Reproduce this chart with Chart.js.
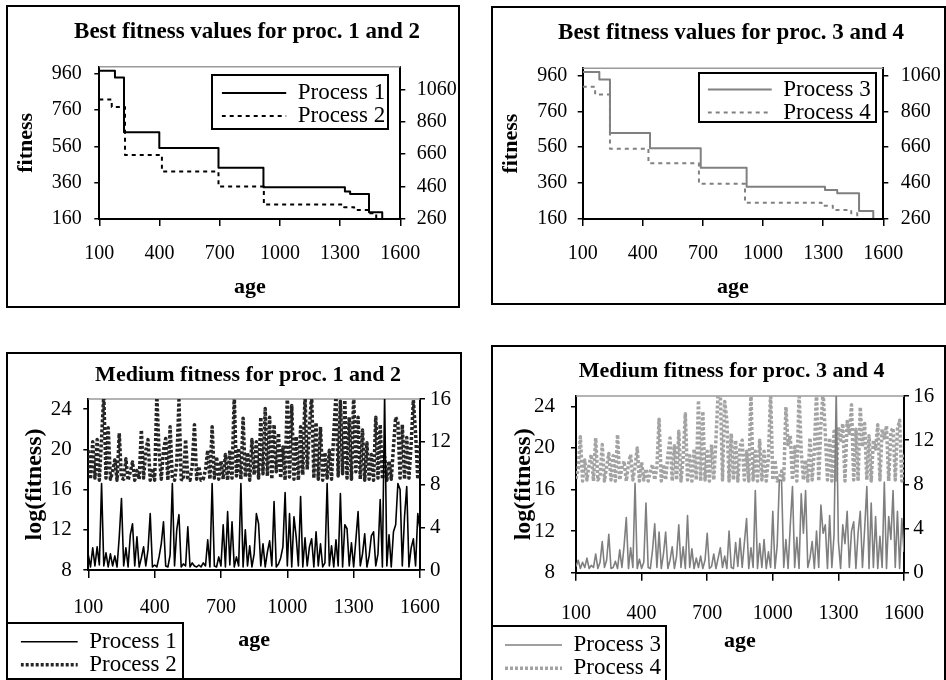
<!DOCTYPE html>
<html>
<head>
<meta charset="utf-8">
<script src="https://cdn.jsdelivr.net/npm/chart.js@4/dist/chart.umd.min.js"></script>
<style>
  html, body { margin: 0; padding: 0; background: #fff; }
  body { width: 946px; height: 680px; position: relative; overflow: hidden; }
  canvas { position: absolute; }
</style>
</head>
<body>
<canvas id="c1" width="454" height="303" style="left:6px;top:5px"></canvas>
<canvas id="c2" width="455" height="299" style="left:491px;top:6px"></canvas>
<canvas id="c3" width="456" height="328" style="left:6px;top:352px"></canvas>
<canvas id="c4" width="455" height="337" style="left:491px;top:345px"></canvas>
<script>
/*** data ***/
// best fitness: age where each new level starts, and its value
const bestAges1 = [100, 178, 223, 399, 694, 918, 1324, 1350, 1444, 1510, 1600];
const bestProc1 = [978, 940, 638, 552, 443, 335, 311, 298, 197, 160, 160];
const bestAges2 = [100, 162, 228, 412, 694, 920, 1320, 1370, 1445, 1480, 1500];
const bestProc2 = [998, 952, 655, 553, 460, 349, 332, 316, 295, 240, 240];
const bestAges3 = [100, 183, 236, 436, 689, 918, 1309, 1370, 1479, 1550];
const bestProc3 = [979, 938, 640, 554, 445, 340, 322, 303, 205, 165];
const bestAges4 = [100, 162, 236, 428, 680, 910, 1292, 1348, 1440, 1470, 1480];
const bestProc4 = [997, 954, 652, 571, 456, 351, 334, 310, 292, 240, 240];

// medium fitness, sampled every 10 ages
const mediumAges = [
  100, 110, 120, 130, 140, 150, 160, 170, 180, 190,
  200, 210, 220, 230, 240, 250, 260, 270, 280, 290,
  300, 310, 320, 330, 340, 350, 360, 370, 380, 390,
  400, 410, 420, 430, 440, 450, 460, 470, 480, 490,
  500, 510, 520, 530, 540, 550, 560, 570, 580, 590,
  600, 610, 620, 630, 640, 650, 660, 670, 680, 690,
  700, 710, 720, 730, 740, 750, 760, 770, 780, 790,
  800, 810, 820, 830, 840, 850, 860, 870, 880, 890,
  900, 910, 920, 930, 940, 950, 960, 970, 980, 990,
  1000, 1010, 1020, 1030, 1040, 1050, 1060, 1070, 1080, 1090,
  1100, 1110, 1120, 1130, 1140, 1150, 1160, 1170, 1180, 1190,
  1200, 1210, 1220, 1230, 1240, 1250, 1260, 1270, 1280, 1290,
  1300, 1310, 1320, 1330, 1340, 1350, 1360, 1370, 1380, 1390,
  1400, 1410, 1420, 1430, 1440, 1450, 1460, 1470, 1480, 1490,
  1500, 1510, 1520, 1530, 1540, 1550, 1560, 1570, 1580, 1590,
  1600
];
const medProc1 = [
  9.5, 8.3, 10.2, 8.4, 10.3, 8.5, 16.6, 8.4, 9.7, 8.3,
  9.6, 8.4, 9.4, 8.3, 11.3, 15.1, 8.4, 10.2, 8.3, 11.5,
  12.6, 8.4, 11.3, 8.3, 9.2, 10.3, 8.4, 10.0, 13.6, 8.3,
  8.5, 8.3, 9.3, 10.6, 12.8, 8.4, 8.3, 9.5, 16.6, 8.4,
  12.0, 13.5, 8.3, 8.6, 8.4, 12.3, 8.3, 8.7, 8.4, 8.3,
  8.5, 8.3, 8.7, 8.4, 11.0, 8.3, 16.6, 8.4, 8.3, 9.3,
  8.4, 12.5, 8.3, 13.8, 8.5, 12.8, 8.3, 9.3, 8.4, 16.6,
  8.3, 12.0, 8.4, 10.4, 8.3, 9.6, 13.6, 12.6, 8.4, 10.6,
  8.3, 9.8, 10.9, 8.4, 14.8, 8.3, 8.6, 9.2, 10.3, 15.7,
  8.4, 13.6, 8.3, 13.3, 11.3, 8.4, 15.3, 8.3, 11.2, 8.4,
  10.3, 11.1, 8.3, 11.8, 8.4, 10.6, 8.3, 8.7, 16.6, 8.4,
  10.4, 8.3, 11.0, 8.4, 15.6, 8.3, 12.5, 12.1, 8.4, 10.7,
  8.3, 11.0, 13.8, 8.4, 9.6, 11.6, 8.3, 9.4, 11.4, 11.8,
  8.4, 9.6, 15.0, 8.3, 25.5, 8.4, 11.5, 8.3, 11.8, 12.5,
  16.6, 16.0, 8.4, 13.3, 16.3, 8.3, 10.2, 11.1, 8.4, 13.6,
  12.0
];
const medProc2 = [
  11.2, 8.5, 12.0, 8.6, 12.2, 8.4, 12.3, 16.4, 8.6, 13.3,
  8.5, 9.2, 10.3, 8.4, 12.8, 8.6, 8.5, 10.4, 8.4, 9.2,
  10.1, 8.4, 9.3, 8.5, 13.1, 8.6, 11.2, 12.2, 8.4, 9.5,
  8.4, 16.4, 11.0, 8.5, 11.2, 12.3, 8.4, 13.4, 8.6, 8.4,
  10.0, 15.9, 8.5, 8.4, 12.2, 8.6, 8.4, 9.8, 13.6, 8.5,
  9.7, 8.4, 8.5, 9.4, 11.2, 8.5, 13.4, 8.6, 10.6, 8.5,
  10.2, 8.5, 10.8, 8.4, 11.2, 8.6, 16.4, 8.8, 11.4, 8.5,
  14.2, 8.7, 11.0, 8.4, 12.2, 8.9, 12.0, 8.6, 14.3, 9.0,
  15.1, 8.8, 14.3, 8.5, 13.6, 9.2, 12.8, 8.6, 11.5, 8.4,
  16.4, 8.7, 15.4, 8.5, 12.5, 8.4, 13.4, 8.9, 16.4, 9.4,
  13.4, 16.4, 8.6, 13.8, 8.5, 13.4, 8.4, 11.0, 8.6, 11.2,
  8.5, 12.8, 16.4, 8.8, 15.8, 9.0, 15.9, 8.6, 14.3, 8.5,
  16.4, 9.2, 14.3, 8.5, 13.1, 8.4, 11.9, 8.5, 10.8, 8.4,
  14.3, 8.6, 13.6, 8.5, 10.6, 8.4, 10.2, 8.5, 11.5, 14.3,
  13.8, 8.6, 13.6, 8.5, 12.4, 8.6, 11.8, 15.9, 12.8, 8.5,
  11.9
];
const medProc3 = [
  8.6, 9.2, 8.4, 9.0, 8.5, 9.4, 8.4, 8.7, 8.5, 9.8,
  8.4, 9.0, 11.0, 8.5, 9.2, 11.7, 8.4, 8.5, 9.1, 8.4,
  10.2, 8.5, 10.6, 13.3, 8.4, 10.4, 8.5, 16.6, 8.4, 9.3,
  8.4, 9.0, 14.7, 8.5, 8.4, 10.2, 12.7, 8.5, 11.9, 8.4,
  9.8, 11.9, 8.4, 9.2, 10.5, 8.4, 9.6, 12.6, 8.5, 10.5,
  8.4, 13.5, 8.5, 10.3, 8.4, 9.4, 8.5, 9.6, 8.4, 9.2,
  11.8, 8.4, 8.6, 9.8, 8.4, 9.4, 10.4, 8.5, 9.6, 8.4,
  12.0, 8.5, 8.4, 10.9, 8.6, 11.3, 8.5, 10.9, 13.2, 8.4,
  10.4, 8.5, 15.9, 8.4, 10.8, 8.5, 11.2, 8.4, 10.0, 8.5,
  13.9, 8.4, 10.6, 16.9, 16.9, 8.5, 11.2, 8.4, 12.6, 16.3,
  8.5, 11.4, 8.4, 15.6, 11.8, 15.9, 8.5, 9.4, 11.0, 8.4,
  12.0, 8.5, 14.5, 11.8, 12.6, 8.4, 13.5, 8.5, 11.6, 25.5,
  11.0, 8.4, 12.6, 10.8, 13.9, 8.5, 12.0, 12.9, 8.4, 11.8,
  13.9, 8.5, 12.2, 16.3, 8.4, 14.7, 8.5, 13.4, 8.4, 11.5,
  8.5, 16.7, 8.4, 13.4, 11.2, 15.9, 8.5, 13.9, 8.4, 13.2,
  10.0
];
const medProc4 = [
  8.5, 9.4, 12.3, 8.3, 10.2, 8.4, 9.8, 10.7, 8.3, 12.2,
  8.4, 8.8, 11.6, 8.3, 9.6, 10.8, 8.4, 10.6, 8.3, 12.5,
  8.4, 9.5, 10.1, 8.3, 9.8, 10.7, 8.4, 9.6, 11.3, 8.3,
  10.0, 8.4, 9.4, 8.3, 9.2, 9.8, 8.4, 9.6, 13.9, 8.3,
  9.8, 8.4, 10.6, 12.2, 8.3, 11.5, 8.4, 12.8, 8.3, 10.4,
  14.4, 8.4, 10.6, 8.3, 11.2, 8.4, 15.6, 8.3, 14.6, 8.4,
  11.0, 8.3, 11.6, 8.4, 12.0, 16.4, 16.4, 8.4, 15.5, 13.8,
  8.3, 12.6, 8.4, 12.0, 8.3, 11.4, 12.0, 8.4, 11.0, 8.3,
  16.4, 8.4, 11.0, 8.3, 12.0, 8.4, 11.0, 8.3, 10.4, 16.4,
  8.4, 10.2, 8.3, 8.6, 9.2, 8.4, 15.0, 11.6, 12.4, 8.4,
  11.4, 8.3, 16.4, 11.0, 8.4, 10.2, 8.3, 12.2, 8.4, 11.0,
  16.4, 8.3, 13.4, 16.4, 12.6, 8.4, 12.2, 8.3, 12.8, 8.4,
  13.2, 12.0, 13.5, 8.3, 13.7, 12.6, 15.2, 8.4, 13.0, 8.3,
  15.0, 11.4, 13.5, 8.4, 12.4, 8.3, 12.0, 11.2, 13.4, 8.4,
  13.0, 12.2, 13.3, 8.3, 12.8, 13.1, 8.4, 13.0, 13.8, 8.3,
  10.8
];

// tick labels
const ageTicks = [100, 400, 700, 1000, 1300, 1600];
const bestLeftTicks = [160, 360, 560, 760, 960];
const bestRightTicks = [260, 460, 660, 860, 1060];
const medLeftTicks = [8, 12, 16, 20, 24];
const medRightTicks = [0, 4, 8, 12, 16];
/*** data above ***/

Chart.defaults.font.family = "'Liberation Serif', 'Times New Roman', serif";
Chart.defaults.color = '#000';

const pts = (xs, ys) => xs.map((x, i) => ({ x: x, y: ys[i] }));
const fixTicks = (vals) => (scale) => { scale.ticks = vals.map((v) => ({ value: v })); };

// frame of the box, legend box, grey top edge of the plot area
const framePlugin = {
  id: 'frame',
  afterLayout(chart, args, o) {
    const L = chart.legend;
    L.left = o.lx - o.pad;
    L.top = o.ly - o.fs / 2 - o.pad;
    L.right = chart.width + 50;
    L.bottom = chart.height + 50;
    // title centred where the original has it, wide enough not to be squeezed
    const T = chart.titleBlock;
    T.left = o.tx - 220;
    T.right = o.tx + 220;
  },
  beforeDraw(chart, args, o) {
    const ctx = chart.ctx;
    ctx.save();
    ctx.fillStyle = '#fff';
    ctx.fillRect(o.bx, o.by, o.bw, o.bh);
    ctx.lineWidth = 2;
    ctx.strokeStyle = '#000';
    ctx.strokeRect(o.bx, o.by, o.bw, o.bh);
    ctx.restore();
  },
  beforeDatasetsDraw(chart) {
    const a = chart.chartArea, ctx = chart.ctx;
    ctx.save();
    ctx.strokeStyle = '#9a9a9a';
    ctx.lineWidth = 1.5;
    ctx.beginPath();
    ctx.moveTo(a.left, a.top);
    ctx.lineTo(a.right, a.top);
    ctx.stroke();
    ctx.restore();
  },
  afterDraw(chart) {
    const ctx = chart.ctx;
    ctx.save();
    ctx.lineWidth = 2;
    ctx.strokeStyle = '#000';
    ctx.strokeRect(1, 1, chart.width - 2, chart.height - 2);
    ctx.restore();
  }
};

function yAxis(pos, min, max, vals, g) {
  return {
    type: 'linear', position: pos, min: min, max: max,
    afterBuildTicks: fixTicks(vals),
    afterFit: (s) => { s.width = g.w; },
    grid: { drawOnChartArea: false, drawTicks: true, tickLength: 5, color: '#000', lineWidth: 1.5 },
    border: { display: true, color: '#000', width: 2 },
    ticks: { padding: g.pad, autoSkip: false, font: { size: g.fs }, color: '#000', callback: (v) => String(v) },
    title: g.title
      ? { display: true, text: g.title, color: '#000', font: { size: g.tfs, weight: 'bold' }, padding: { top: g.tpad, bottom: 0 } }
      : { display: false }
  };
}

function xAxis(g) {
  return {
    type: 'linear', position: 'bottom', min: 100, max: 1600,
    afterBuildTicks: fixTicks(ageTicks),
    afterFit: (s) => { s.height = g.h; },
    grid: { drawOnChartArea: false, drawTicks: true, tickLength: g.tl, color: '#000', lineWidth: 1.5 },
    border: { display: true, color: '#000', width: 2 },
    ticks: { padding: g.pad, autoSkip: false, maxRotation: 0, font: { size: 20 }, color: '#000', callback: (v) => String(v) },
    title: { display: true, text: 'age', color: '#000', font: { size: 22, weight: 'bold' }, padding: { top: 0, bottom: g.tpad } }
  };
}

function legendOpts(boxW, pad) {
  return {
    display: true, position: 'chartArea', align: 'start',
    labels: {
      usePointStyle: true, pointStyle: 'line', pointStyleWidth: boxW,
      padding: pad, font: { size: 23 }, color: '#000',
      generateLabels: (chart) => chart.data.datasets.map((d, i) => ({
        text: d.label, strokeStyle: d.borderColor, lineWidth: d.borderWidth,
        lineDash: d.borderDash || [], pointStyle: 'line', fontColor: '#000',
        textAlign: 'left', hidden: false, datasetIndex: i
      }))
    }
  };
}

function makeChart(id, datasets, s) {
  return new Chart(document.getElementById(id), {
    type: 'line',
    data: { datasets: datasets },
    options: {
      responsive: false,
      animation: false,
      events: [],
      layout: { padding: 0 },
      elements: { point: { radius: 0 }, line: { tension: 0, borderJoinStyle: 'round' } },
      scales: { x: s.x, y: s.y, y1: s.y1 },
      plugins: {
        title: {
          display: true, text: s.title, fullSize: false, color: '#000',
          font: { size: s.tfs, weight: 'bold' }, padding: { top: s.tt, bottom: s.tb }
        },
        legend: legendOpts(s.lw, s.lp),
        tooltip: { enabled: false },
        frame: s.frame
      }
    },
    plugins: [framePlugin]
  });
}

const line = (label, xs, ys, axis, color, width, dash, stepped) => ({
  label: label, data: pts(xs, ys), yAxisID: axis, borderColor: color,
  borderWidth: width, borderDash: dash, stepped: stepped, fill: false, pointRadius: 0
});

// Best fitness values for proc. 1 and 2
makeChart('c1', [
  line('Process 1', bestAges1, bestProc1, 'y', '#000', 2, [], true),
  line('Process 2', bestAges2, bestProc2, 'y1', '#000', 2, [4, 4], true)
], {
  title: 'Best fitness values for proc. 1 and 2', tfs: 23, tt: 13.2, tb: 20.9,
  x: xAxis({ h: 89, tl: 7, pad: 16, tpad: 7.8 }),
  y: yAxis('left', 160, 1000, bestLeftTicks, { w: 93.3, pad: 12.6, fs: 20, title: 'fitness', tfs: 22, tpad: 7.5 }),
  y1: yAxis('right', 260, 1200, bestRightTicks, { w: 59.7, pad: 11.4, fs: 20 }),
  lw: 64.5, lp: 0,
  frame: { tx: 241, lx: 215.7, ly: 88, pad: 0, fs: 23, bx: 206, by: 70, bw: 176, bh: 54 }
});

// Best fitness values for proc. 3 and 4
makeChart('c2', [
  line('Process 3', bestAges3, bestProc3, 'y', '#808080', 2, [], true),
  line('Process 4', bestAges4, bestProc4, 'y1', '#808080', 2, [4, 4], true)
], {
  title: 'Best fitness values for proc. 3 and 4', tfs: 23, tt: 13.5, tb: 21.2,
  x: xAxis({ h: 86, tl: 7, pad: 16, tpad: 4.8 }),
  y: yAxis('left', 160, 1000, bestLeftTicks, { w: 91.7, pad: 10.4, fs: 20, title: 'fitness', tfs: 22, tpad: 7.5 }),
  y1: yAxis('right', 260, 1100, bestRightTicks, { w: 62.7, pad: 12.4, fs: 20 }),
  lw: 64, lp: 0,
  frame: { tx: 240, lx: 216.7, ly: 83.5, pad: 0, fs: 23, bx: 208, by: 67, bw: 177, bh: 49 }
});

// Medium fitness for proc. 1 and 2
makeChart('c3', [
  line('Process 1', mediumAges, medProc1, 'y', '#000', 1.6, [], false),
  line('Process 2', mediumAges, medProc2, 'y1', '#262626', 3.5, [3, 2], false)
], {
  title: 'Medium fitness for proc. 1 and 2', tfs: 22, tt: 9.8, tb: 10.8,
  x: xAxis({ h: 110, tl: 8, pad: 18, tpad: 26.8 }),
  y: yAxis('left', 8, 25, medLeftTicks, { w: 82.3, pad: 11.6, fs: 21, title: 'log(fitness)', tfs: 24, tpad: 14.6 }),
  y1: yAxis('right', 0, 16, medRightTicks, { w: 42, pad: 5, fs: 21 }),
  lw: 57, lp: 0,
  frame: { tx: 242, lx: 14.7, ly: 289.7, pad: 0, fs: 23, bx: 1, by: 271, bw: 176, bh: 56 }
});

// Medium fitness for proc. 3 and 4
makeChart('c4', [
  line('Process 3', mediumAges, medProc3, 'y', '#7f7f7f', 1.6, [], false),
  line('Process 4', mediumAges, medProc4, 'y1', '#a3a3a3', 3.5, [3, 2], false)
], {
  title: 'Medium fitness for proc. 3 and 4', tfs: 22, tt: 13.5, tb: 11.1,
  x: xAxis({ h: 109.3, tl: 8, pad: 20.6, tpad: 27.1 }),
  y: yAxis('left', 8, 25, medLeftTicks, { w: 85, pad: 16, fs: 21, title: 'log(fitness)', tfs: 24, tpad: 17.9 }),
  y1: yAxis('right', 0, 16, medRightTicks, { w: 42, pad: 4.3, fs: 21 }),
  lw: 57, lp: 0.3,
  frame: { tx: 240.7, lx: 14, ly: 300, pad: 0.3, fs: 23, bx: 1, by: 281, bw: 174, bh: 60 }
});
</script>
</body>
</html>
